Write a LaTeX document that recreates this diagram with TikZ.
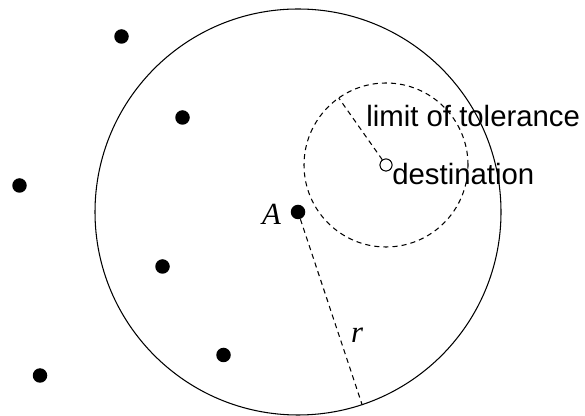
\documentclass[tikz,border=0pt]{standalone}
\usepackage{fontspec}
\setmainfont{Liberation Sans}
\newfontfamily\timesit{Liberation Serif}[ItalicFont={* Italic}]
\usetikzlibrary{positioning}
\definecolor{ink}{HTML}{000000}
\definecolor{bg}{HTML}{FFFFFF}

\begin{document}
\begin{tikzpicture}[x=1cm,y=1cm,font=\fontsize{16.7}{20}\selectfont,
  dot/.style={circle,fill=ink,inner sep=0pt,minimum size=0.29cm},
  hole/.style={circle,draw=ink,fill=white,line width=0.5pt,inner sep=0pt,minimum size=0.24cm},
  rim/.style={draw=ink,line width=0.6pt},
  dsh/.style={draw=ink,line width=0.6pt,dash pattern=on 2.9pt off 2.3pt},
  tag/.style={text=ink,inner sep=0pt},
  var/.style={text=ink,inner sep=0pt,font=\fontsize{17.5}{20}\timesit\itshape}]
  \useasboundingbox[fill=bg] (0,0) rectangle (11.7,8.32);

  % ===== positions =====
  \node[dot] (A) at (5.96,4.08) {};
  \node[hole] (dest) at (7.72,5.02) {};
  \coordinate (rend) at ([shift={(-71.6:4.06)}]A.center);
  \coordinate (tolend) at ([shift={(125.2:1.64)}]dest.center);

  % ===== circles =====
  \draw[rim] (A.center) circle[radius=4.06];
  \draw[dsh] (dest.center) circle[radius=1.64];

  % ===== radii =====
  \draw[dsh] (A) -- (rend);
  \draw[dsh] (dest) -- (tolend);
  \node[hole] at (dest) {};

  % ===== other points =====
  \node[dot] (p1) at (2.43,7.59) {};
  \node[dot] (p2) at (3.65,5.97) {};
  \node[dot] (p3) at (0.39,4.61) {};
  \node[dot] (p4) at (3.25,2.99) {};
  \node[dot] (p5) at (4.47,1.22) {};
  \node[dot] (p6) at (0.80,0.81) {};

  % ===== labels =====
  \node[var] (lA) at (5.43,4.04) {A};
  \node[var] (lr) at (7.14,1.62) {r};
  \node[tag,anchor=base west] (ldest) at (7.84,4.62) {destination};
  \node[tag,anchor=base west] (ltol) at (7.32,5.78) {limit of tolerance};
\end{tikzpicture}
\end{document}
